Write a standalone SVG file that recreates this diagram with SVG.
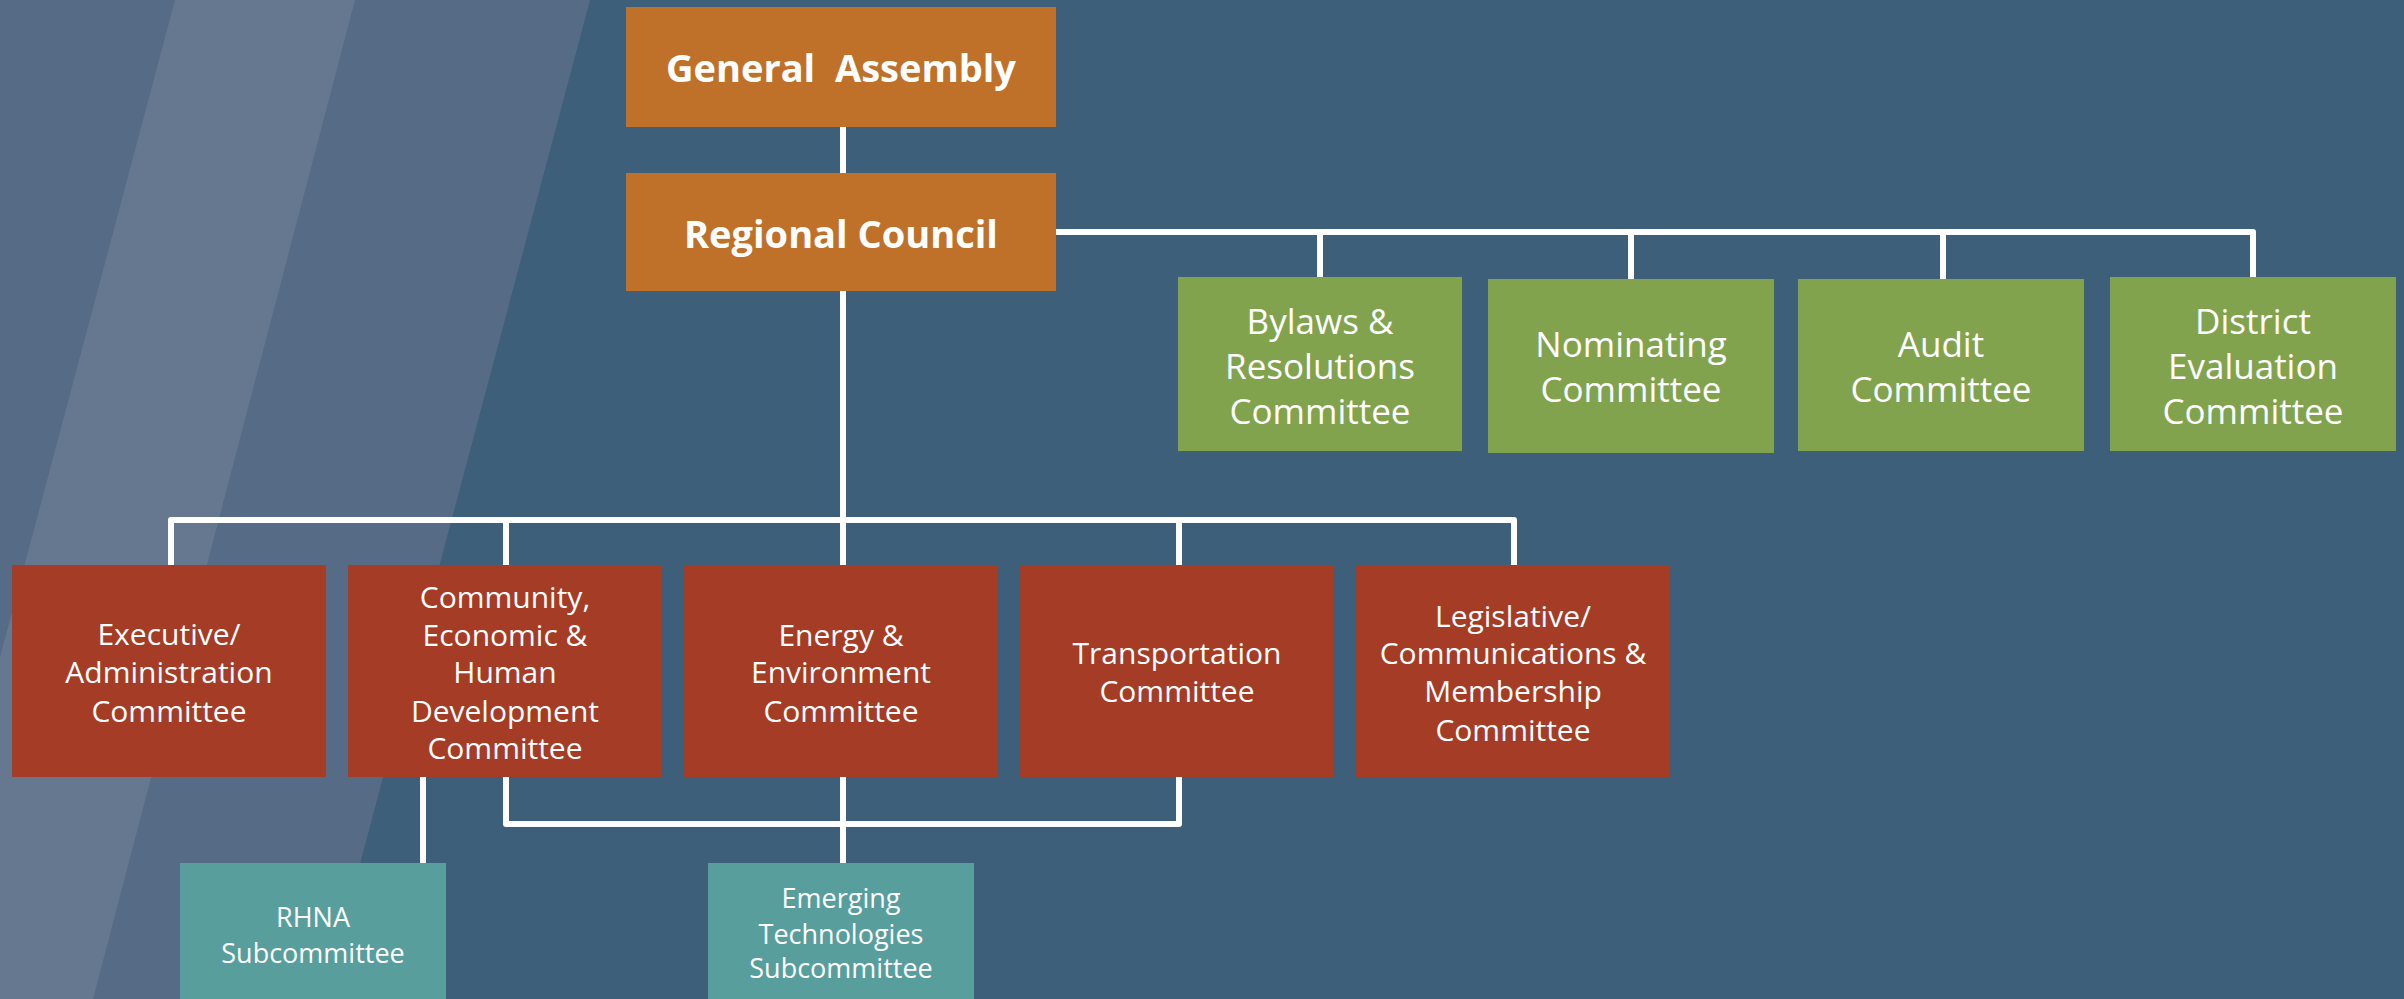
<svg xmlns="http://www.w3.org/2000/svg" width="2404" height="999" viewBox="0 0 2404 999">
<style>
.t{font-family:"Open Sans","Noto Sans",sans-serif;fill:#fff;text-anchor:middle}
.b{font-weight:bold;font-size:38px;white-space:pre}
.g{font-size:35px}
.r{font-size:30px}
.s{font-size:27px}
.c{fill:none;stroke:#fff;stroke-width:6;stroke-linejoin:round}
</style>
<rect width="2404" height="999" fill="#3E5F79"/>
<polygon points="0,0 590,0 324,999 0,999" fill="#566C86"/>
<polygon points="175,0 355,0 93,999 -91,999" fill="#66788F"/>
<g id="connectors" class="c">
<path d="M843,127V173"/>
<path d="M1056,232H2253V277M1320,232V277M1631,232V279M1943,232V279"/>
<path d="M843,291V565"/>
<path d="M171,565V520H1514V565M506,520V565M1179,520V565"/>
<path d="M423,777V863"/>
<path d="M506,777V824H1179V777M843,777V863"/>
</g>
<g id="general-assembly"><rect x="626" y="7" width="430" height="120" fill="#BF7129"/><text class="t b" x="841" y="82" xml:space="preserve">General  Assembly</text></g>
<g id="regional-council"><rect x="626" y="173" width="430" height="118" fill="#BF7129"/><text class="t b" x="841" y="248">Regional Council</text></g>
<g id="bylaws"><rect x="1178" y="277" width="284" height="174" fill="#82A34E"/><text class="t g"><tspan x="1320" y="334">Bylaws &amp;</tspan><tspan x="1320" y="379">Resolutions</tspan><tspan x="1320" y="424">Committee</tspan></text></g>
<g id="nominating"><rect x="1488" y="279" width="286" height="174" fill="#82A34E"/><text class="t g"><tspan x="1631" y="357">Nominating</tspan><tspan x="1631" y="402">Committee</tspan></text></g>
<g id="audit"><rect x="1798" y="279" width="286" height="172" fill="#82A34E"/><text class="t g"><tspan x="1941" y="357">Audit</tspan><tspan x="1941" y="402">Committee</tspan></text></g>
<g id="district"><rect x="2110" y="277" width="286" height="174" fill="#82A34E"/><text class="t g"><tspan x="2253" y="334">District</tspan><tspan x="2253" y="379">Evaluation</tspan><tspan x="2253" y="424">Committee</tspan></text></g>
<g id="executive"><rect x="12" y="565" width="314" height="212" fill="#A53C25"/><text class="t r"><tspan x="169" y="645">Executive/</tspan><tspan x="169" y="683">Administration</tspan><tspan x="169" y="722">Committee</tspan></text></g>
<g id="community"><rect x="348" y="565" width="314" height="212" fill="#A53C25"/><text class="t r"><tspan x="505" y="608">Community,</tspan><tspan x="505" y="646">Economic &amp;</tspan><tspan x="505" y="683">Human</tspan><tspan x="505" y="722">Development</tspan><tspan x="505" y="759">Committee</tspan></text></g>
<g id="energy"><rect x="684" y="565" width="314" height="212" fill="#A53C25"/><text class="t r"><tspan x="841" y="646">Energy &amp;</tspan><tspan x="841" y="683">Environment</tspan><tspan x="841" y="722">Committee</tspan></text></g>
<g id="transportation"><rect x="1020" y="565" width="314" height="212" fill="#A53C25"/><text class="t r"><tspan x="1177" y="664">Transportation</tspan><tspan x="1177" y="702">Committee</tspan></text></g>
<g id="legislative"><rect x="1356" y="565" width="314" height="212" fill="#A53C25"/><text class="t r"><tspan x="1513" y="627">Legislative/</tspan><tspan x="1513" y="664">Communications &amp;</tspan><tspan x="1513" y="702">Membership</tspan><tspan x="1513" y="741">Committee</tspan></text></g>
<g id="rhna"><rect x="180" y="863" width="266" height="140" fill="#589E9C"/><text class="t s"><tspan x="313" y="927">RHNA</tspan><tspan x="313" y="963">Subcommittee</tspan></text></g>
<g id="emerging"><rect x="708" y="863" width="266" height="140" fill="#589E9C"/><text class="t s"><tspan x="841" y="908">Emerging</tspan><tspan x="841" y="944">Technologies</tspan><tspan x="841" y="978">Subcommittee</tspan></text></g>
</svg>
